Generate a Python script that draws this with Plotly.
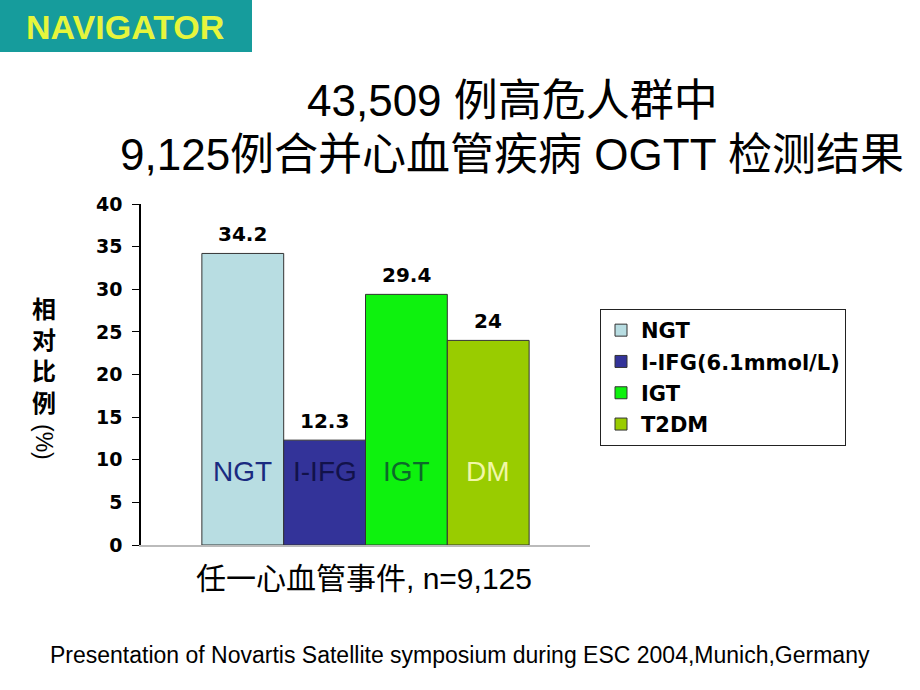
import plotly.graph_objects as go

categories = ["NGT", "I-IFG(6.1mmol/L)", "IGT", "T2DM"]
values = [34.2, 12.3, 29.4, 24]
inner_labels = ["NGT", "I-IFG", "IGT", "DM"]
bar_colors = ["#b8dde2", "#333399", "#0ef20e", "#99cc00"]
inner_colors = ["#1a2a80", "#12124a", "#0c6a2a", "#f2f7a8"]
inner_label_y = 8.6
y_ticks = [0, 5, 10, 15, 20, 25, 30, 35, 40]

# plot area in pixels
L, R, T, B = 141, 590, 204, 545
W, H = R - L, B - T


def px(x):
    return (x - L) / W


def py(y):
    return (B - y) / H


fig = go.Figure()
for i, (cat, v) in enumerate(zip(categories, values)):
    fig.add_trace(go.Bar(
        x=[i], y=[v], name=cat, width=1,
        marker=dict(color=bar_colors[i], line=dict(color="#333333", width=1)),
        legendgroup=cat,
    ))
    fig.add_annotation(x=i, y=v, text=f"{v:g}", showarrow=False,
                       xanchor="center", yanchor="bottom", yshift=5,
                       font=dict(family="DejaVu Sans", size=20, color="black", weight="bold"))
    fig.add_annotation(x=i, y=inner_label_y, text=inner_labels[i], showarrow=False,
                       xanchor="center", yanchor="middle",
                       font=dict(family="Liberation Sans, Arial", size=28, color=inner_colors[i]))

fig.update_layout(
    width=920, height=690, paper_bgcolor="white", plot_bgcolor="white",
    margin=dict(l=L, r=920 - R, t=T, b=690 - B),
    barmode="overlay", showlegend=True,
    legend=dict(x=px(600), y=py(309), xanchor="left", yanchor="top",
                bordercolor="#222222", borderwidth=1, bgcolor="white",
                font=dict(family="DejaVu Sans", size=21, color="black", weight="bold"),
                tracegroupgap=1, itemwidth=30),
    xaxis=dict(range=[-1.244, 4.244], showticklabels=False, showgrid=False, zeroline=False,
               showline=True, linecolor="#bbbbbb", linewidth=1.5, ticks=""),
    yaxis=dict(range=[0, 40], tickvals=y_ticks, showgrid=False, zeroline=False,
               showline=True, linecolor="black", linewidth=1.5, ticks="outside", ticklen=7,
               tickcolor="black", ticklabelstandoff=6,
               tickfont=dict(family="DejaVu Sans", size=19, color="black", weight="bold")),
    font=dict(family="Liberation Sans, Noto Sans CJK SC"),
)

# NAVIGATOR banner
fig.add_shape(type="rect", xref="paper", yref="paper",
              x0=px(0), x1=px(252), y0=py(52), y1=py(0),
              fillcolor="#169c9c", line=dict(width=0), layer="below")
fig.add_annotation(xref="paper", yref="paper", x=px(125), y=py(27),
                   xanchor="center", yanchor="middle",
                   text="<b>NAVIGATOR</b>", showarrow=False,
                   font=dict(family="Liberation Sans, Arial", size=34, color="#e6f53c"))

# Titles
title_font = dict(family="Liberation Sans, Noto Sans CJK SC", size=44, color="black")
fig.add_annotation(xref="paper", yref="paper", x=px(512), y=py(100),
                   xanchor="center", yanchor="middle",
                   text="43,509 例高危人群中", showarrow=False, font=title_font)
fig.add_annotation(xref="paper", yref="paper", x=px(512), y=py(155),
                   xanchor="center", yanchor="middle",
                   text="9,125例合并心血管疾病 OGTT 检测结果", showarrow=False, font=title_font)

# Axis titles
fig.add_annotation(xref="paper", yref="paper", x=px(44), y=py(354),
                   xanchor="center", yanchor="middle",
                   text="<b>相<br>对<br>比<br>例</b>", showarrow=False,
                   font=dict(family="Noto Sans CJK SC", size=24, color="black"))
fig.add_annotation(xref="paper", yref="paper", x=px(44), y=py(442),
                   xanchor="center", yanchor="middle",
                   text="(%)", showarrow=False, textangle=90,
                   font=dict(family="Liberation Sans, Noto Sans CJK SC", size=23, color="black"))
fig.add_annotation(xref="paper", yref="paper", x=px(364), y=py(578),
                   xanchor="center", yanchor="middle",
                   text="任一心血管事件, n=9,125", showarrow=False,
                   font=dict(family="Liberation Sans, Noto Sans CJK SC", size=30, color="black"))

# Footnote
fig.add_annotation(xref="paper", yref="paper", x=px(460), y=py(655),
                   xanchor="center", yanchor="middle",
                   text="Presentation of Novartis Satellite symposium during ESC 2004,Munich,Germany",
                   showarrow=False,
                   font=dict(family="Liberation Sans, Arial", size=23, color="black"))

fig.write_html("out.html")
